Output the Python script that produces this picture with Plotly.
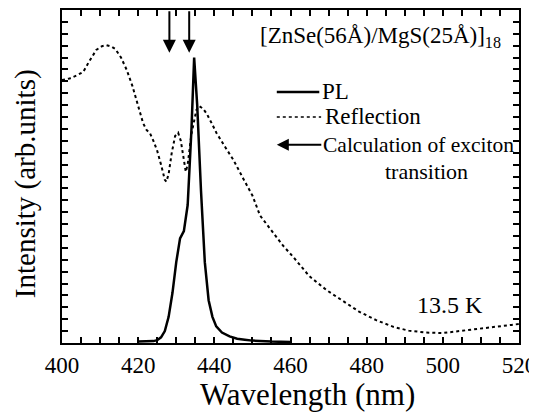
import plotly.graph_objects as go

# ---- data ----
pl_nm = [420, 422, 424, 425, 426, 427, 428, 429, 430, 431, 432, 433, 434, 434.7,
         435.5, 436.5, 437.5, 438.5, 439.5, 440.5, 442, 444, 446, 448, 450, 455, 460]
pl_int = [0.03, 0.03, 0.04, 0.06, 0.12, 0.25, 0.55, 1.05, 1.7, 2.2, 2.35, 2.9, 4.5, 6.0,
          5.0, 3.2, 1.7, 0.9, 0.55, 0.35, 0.22, 0.14, 0.09, 0.07, 0.05, 0.03, 0.02]

refl_nm = [400, 402, 404, 405.6, 407, 409, 410.5, 411.7, 413, 414, 415.5, 417, 418.5,
           419.6, 420.5, 421.3, 422.2, 423.1, 424, 425, 426, 427, 427.4, 428, 428.8,
           429.7, 430.5, 431.2, 432, 432.5, 433, 434, 435.3, 436, 437, 438, 439.3,
           440.6, 443, 445, 447.5, 450, 452, 455.5, 458, 460.7, 465, 469.5, 474, 478,
           482.5, 487, 491, 495.5, 500, 504.5, 509, 513, 518, 520]
refl_int = [5.53, 5.56, 5.63, 5.70, 5.90, 6.16, 6.24, 6.26, 6.23, 6.18, 6.00, 5.74, 5.40,
            5.11, 4.85, 4.62, 4.48, 4.41, 4.25, 4.04, 3.75, 3.43, 3.39, 3.55, 3.99,
            4.35, 4.42, 4.25, 3.85, 3.60, 3.75, 4.40, 4.90, 4.98, 4.93, 4.82, 4.62,
            4.41, 4.10, 3.85, 3.47, 3.10, 2.68, 2.31, 2.05, 1.81, 1.40, 1.11, 0.87, 0.66,
            0.48, 0.34, 0.26, 0.22, 0.21, 0.25, 0.29, 0.32, 0.38, 0.40]

exciton_calc_nm = [428.2, 433.4]
exciton_arrow_tip = 6.1

# x ticks every 5 nm, labelled every 20 nm
x_tickvals = list(range(400, 521, 5))
x_ticktext = [str(v) if v % 20 == 0 else "" for v in x_tickvals]

FONT = "Liberation Serif, Times New Roman, Times, serif"

fig = go.Figure()
fig.add_trace(go.Scatter(x=refl_nm, y=refl_int, mode="lines", name="Reflection",
                         line=dict(color="black", width=2, dash="dot"),
                         showlegend=False))
fig.add_trace(go.Scatter(x=pl_nm, y=pl_int, mode="lines", name="PL",
                         line=dict(color="black", width=2.5),
                         showlegend=False))

# calculated exciton transitions (downward arrows from the top frame)
for xv in exciton_calc_nm:
    fig.add_annotation(x=xv, y=exciton_arrow_tip, xref="x", yref="y",
                       ax=0, ay=-43, text="", showarrow=True,
                       arrowhead=2, arrowsize=1.3, arrowwidth=2, arrowcolor="black")

# legend drawn by hand (paper coordinates)
fig.add_shape(type="line", xref="paper", yref="paper", x0=0.470, x1=0.563,
              y0=0.754, y1=0.754, line=dict(color="black", width=2.5))
fig.add_shape(type="line", xref="paper", yref="paper", x0=0.470, x1=0.567,
              y0=0.679, y1=0.679, line=dict(color="black", width=1.5, dash="dot"))
fig.add_annotation(x=0.470, y=0.595, xref="paper", yref="paper", ax=46, ay=0,
                   text="", showarrow=True,
                   arrowhead=2, arrowsize=1.2, arrowwidth=2, arrowcolor="black")

def label(x, y, text, xanchor="left", size=23):
    fig.add_annotation(x=x, y=y, xref="paper", yref="paper", xanchor=xanchor,
                       yanchor="middle", text=text, showarrow=False,
                       font=dict(family=FONT, size=size, color="black"))

label(0.429, 0.919, "[ZnSe(56Å)/MgS(25Å)]<sub>18</sub>", size=23)
label(0.565, 0.754, "PL")
label(0.571, 0.679, "Reflection")
label(0.567, 0.595, "Calculation of exciton", size=21.5)
label(0.797, 0.514, "transition", xanchor="center", size=22)
label(0.772, 0.114, "13.5 K", size=24)

# axis titles as paper annotations
fig.add_annotation(x=0.538, y=-0.156, xref="paper", yref="paper", xanchor="center",
                   yanchor="middle", text="Wavelength (nm)", showarrow=False,
                   font=dict(family=FONT, size=31, color="black"))
fig.add_annotation(x=-0.081, y=0.48, xref="paper", yref="paper", xanchor="center",
                   yanchor="middle", text="Intensity (arb.units)", showarrow=False,
                   textangle=-90, font=dict(family=FONT, size=29, color="black"))

fig.update_xaxes(range=[400, 520], tickmode="array", tickvals=x_tickvals,
                 ticktext=x_ticktext, ticklabeloverflow="allow",
                 ticks="inside", ticklen=6, tickwidth=1.5, tickcolor="black",
                 showline=True, linewidth=2, linecolor="black", mirror="ticks",
                 showgrid=False, zeroline=False,
                 tickfont=dict(family=FONT, size=23, color="black"))
fig.update_yaxes(range=[0, 7], tickmode="linear", tick0=0, dtick=0.25,
                 ticks="inside", ticklen=6, tickwidth=1.5, tickcolor="black",
                 showline=True, linewidth=2, linecolor="black", mirror="ticks",
                 showgrid=False, zeroline=False, showticklabels=False)

# the page body has an 8px margin, so the figure is sized/margined to fit it
fig.update_layout(width=529, height=407,
                  margin=dict(l=54, r=18, t=2, b=72, autoexpand=False),
                  plot_bgcolor="white", paper_bgcolor="white", showlegend=False)

fig.write_html("out.html")
